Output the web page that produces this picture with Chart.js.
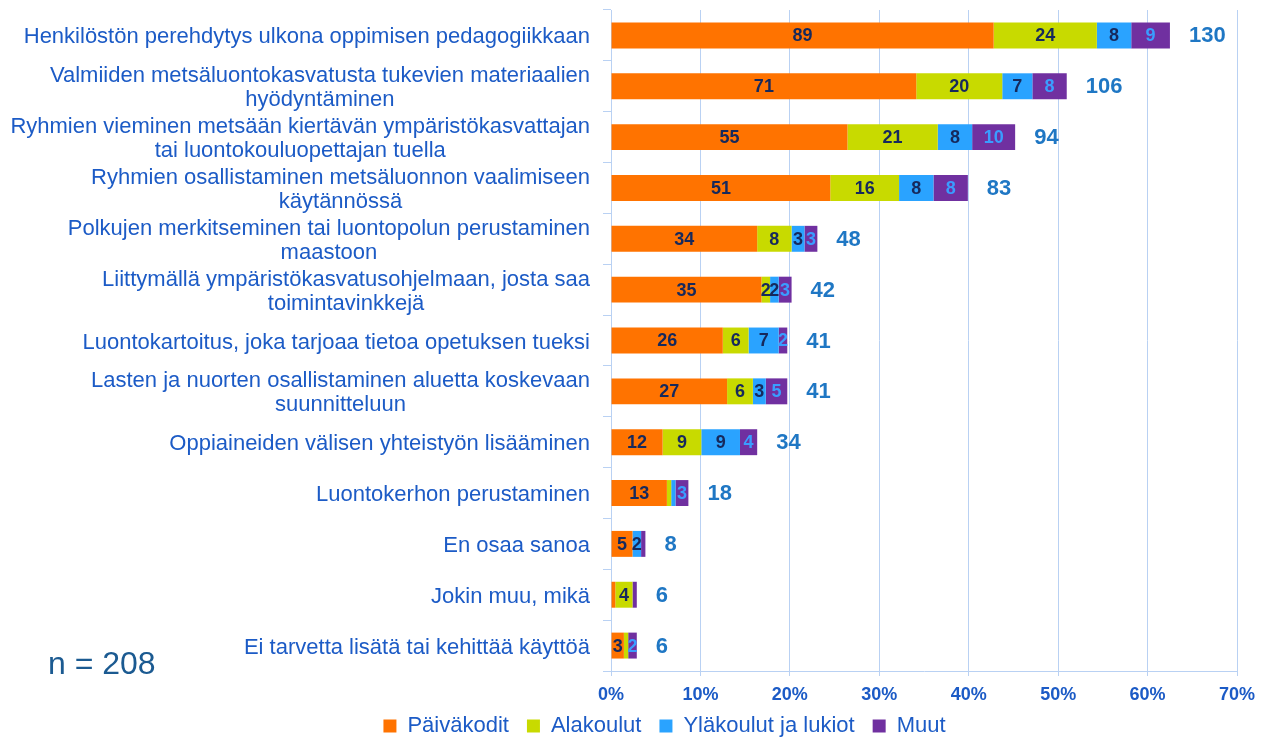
<!DOCTYPE html>
<html lang="fi">
<head>
  <meta charset="UTF-8" />
  <title>Kehittämistarpeet</title>
  <script src="https://cdn.jsdelivr.net/npm/chart.js"></script>
  <style>
    body {
      margin: 0;
      background: #fff;
    }
    #wrap {
      width: 1266px;
      height: 738px;
    }
  </style>
</head>
<body>
  <div id="wrap"><canvas id="chart" width="1266" height="738"></canvas></div>

  <script>
    const categories = [
      "Henkilöstön perehdytys ulkona oppimisen pedagogiikkaan",
      ["Valmiiden metsäluontokasvatusta tukevien materiaalien", "hyödyntäminen"],
      ["Ryhmien vieminen metsään kiertävän ympäristökasvattajan", "tai luontokouluopettajan tuella"],
      ["Ryhmien osallistaminen metsäluonnon vaalimiseen", "käytännössä"],
      ["Polkujen merkitseminen tai luontopolun perustaminen", "maastoon"],
      ["Liittymällä ympäristökasvatusohjelmaan, josta saa", "toimintavinkkejä"],
      "Luontokartoitus, joka tarjoaa tietoa opetuksen tueksi",
      ["Lasten ja nuorten osallistaminen aluetta koskevaan", "suunnitteluun"],
      "Oppiaineiden välisen yhteistyön lisääminen",
      "Luontokerhon perustaminen",
      "En osaa sanoa",
      "Jokin muu, mikä",
      "Ei tarvetta lisätä tai kehittää käyttöä"
    ];
    const seriesNames = ["Päiväkodit", "Alakoulut", "Yläkoulut ja lukiot", "Muut"];
    const paivakodit = [89, 71, 55, 51, 34, 35, 26, 27, 12, 13, 5, 1, 3];
    const alakoulut  = [24, 20, 21, 16, 8, 2, 6, 6, 9, 1, 0, 4, 1];
    const ylakoulut  = [8, 7, 8, 8, 3, 2, 7, 3, 9, 1, 2, 0, 0];
    const muut       = [9, 8, 10, 8, 3, 3, 2, 5, 4, 3, 1, 1, 2];
    const totals     = [130, 106, 94, 83, 48, 42, 41, 41, 34, 18, 8, 6, 6];
    const respondents = 208;
    const xMax = 70;
    const xStep = 10;

    const seriesCounts = [paivakodit, alakoulut, ylakoulut, muut];
    const colors = ["#FF7300", "#C8DA00", "#2AA3FF", "#7030A0"];
    const font = '"Liberation Sans", Arial, sans-serif';
    const textBlue = "#1C5BC6";
    const gridBlue = "#B9D1F3";

    // labels inside segments, totals, category texts and n
    const labelPlugin = {
      id: "barLabels",
      afterLayout(chart) {
        // legend sits closer to the axis labels in the original
        chart.legend.top -= 10;
        chart.legend.bottom -= 10;
      },
      afterDraw(chart) {
        const ctx = chart.ctx;
        ctx.save();
        ctx.textBaseline = "middle";

        ctx.textAlign = "center";
        ctx.font = "bold 18px " + font;
        seriesCounts.forEach((counts, i) => {
          const meta = chart.getDatasetMeta(i);
          meta.data.forEach((bar, j) => {
            if (counts[j] < 2) return;
            ctx.fillStyle = i === 3 ? "#3A9DFF" : "#16295C";
            ctx.fillText(counts[j], (bar.x + bar.base) / 2, bar.y + 1);
          });
        });

        ctx.textAlign = "left";
        ctx.font = "bold 22px " + font;
        ctx.fillStyle = "#1F77C4";
        const last = chart.getDatasetMeta(seriesCounts.length - 1);
        last.data.forEach((bar, j) => {
          ctx.fillText(totals[j], bar.x + 19, bar.y + 1);
        });

        // y labels: block right aligned, lines centred inside the block
        const y = chart.scales.y;
        const right = chart.chartArea.left - 21;
        ctx.font = "22px " + font;
        ctx.fillStyle = textBlue;
        ctx.textAlign = "center";
        categories.forEach((cat, j) => {
          const lines = Array.isArray(cat) ? cat : [cat];
          const w = Math.max(...lines.map(l => ctx.measureText(l).width));
          const cx = right - w / 2;
          const cy = y.getPixelForValue(j) + 2;
          const lh = 24;
          lines.forEach((l, k) => {
            ctx.fillText(l, cx, cy + (k - (lines.length - 1) / 2) * lh);
          });
        });

        ctx.textAlign = "left";
        ctx.font = "32px " + font;
        ctx.fillStyle = "#1B5A91";
        ctx.fillText("n = " + respondents, 48, 665);
        ctx.restore();
      }
    };

    new Chart(document.getElementById("chart"), {
      type: "bar",
      data: {
        labels: categories,
        datasets: seriesNames.map((name, i) => ({
          label: name,
          data: seriesCounts[i].map(v => v / respondents * 100),
          backgroundColor: colors[i],
          borderWidth: 0,
          barPercentage: 0.51,
          categoryPercentage: 1
        }))
      },
      options: {
        indexAxis: "y",
        responsive: false,
        animation: false,
        layout: { padding: { top: 10, right: 29, left: 92, bottom: -19 } },
        scales: {
          x: {
            stacked: true,
            min: 0,
            max: xMax,
            ticks: {
              stepSize: xStep,
              callback: v => v + "%",
              color: textBlue,
              padding: 8,
              font: { family: font, size: 18, weight: "bold" }
            },
            grid: { color: gridBlue, tickLength: 5 },
            border: { color: gridBlue },
            afterFit: s => { s.height = 36; }
          },
          y: {
            stacked: true,
            ticks: { display: false },
            grid: { drawOnChartArea: false, color: gridBlue, tickLength: 8 },
            border: { color: gridBlue },
            afterFit: s => { s.width = 519; }
          }
        },
        plugins: {
          legend: {
            position: "bottom",
            labels: {
              boxWidth: 13,
              boxHeight: 13,
              padding: 18,
              color: textBlue,
              font: { family: font, size: 22 }
            }
          },
          tooltip: { enabled: false }
        }
      },
      plugins: [labelPlugin]
    });
  </script>
</body>
</html>
